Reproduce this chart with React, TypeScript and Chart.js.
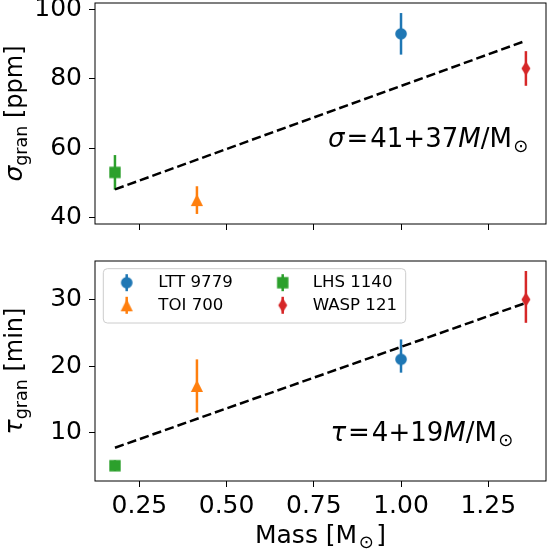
import { useEffect, useRef } from "react"
import { Chart, registerables } from "chart.js"

Chart.register(...registerables)

// stars, in legend order (column by column)
const stars = ["LTT 9779", "TOI 700", "LHS 1140", "WASP 121"]
const colors = ["#1f77b4", "#ff7f0e", "#2ca02c", "#d62728"]
const shapes = ["circle", "triangle", "square", "thinDiamond"]
const mass = [1.0, 0.415, 0.18, 1.358]

// granulation amplitude [ppm]
const sigmaGran = [93, 45, 53, 83]
const sigmaErrLow = [6, 4, 5, 5]
const sigmaErrHigh = [6, 4, 5, 5]

// granulation timescale [min]
const tauGran = [21, 17, 5, 30]
const tauErrLow = [2, 4, 0.8, 3.5]
const tauErrHigh = [3, 4, 0.8, 4.3]

// linear fits, end points
const fitMass = [0.18, 1.358]
const sigmaFit = [48.1, 91.0]
const tauFit = [7.7, 29.5]

const massTicks = [0.25, 0.5, 0.75, 1.0, 1.25]
const sigmaTicks = [40, 60, 80, 100]
const tauTicks = [10, 20, 30]

const massRange = [0.1228, 1.4156]
const sigmaRange = [38.1, 101.9]
const tauRange = [2.7, 35.8]

const FONT = "DejaVu Sans"
const reg = (px: number) => `${px}px "${FONT}"`
const ital = (px: number) => `italic ${px}px "${FONT}"`

const PLOT_LEFT = 95
const PLOT_RIGHT_PAD = 3.5

type Seg = { t: string; font: string; dy?: number; gap?: number }

function drawSegs(ctx: CanvasRenderingContext2D, segs: Seg[], x: number, y: number, center: boolean) {
  const widths = segs.map((s) => {
    ctx.font = s.font
    return ctx.measureText(s.t).width + (s.gap ?? 0)
  })
  let cx = center ? x - widths.reduce((a, b) => a + b, 0) / 2 : x
  segs.forEach((s, i) => {
    ctx.font = s.font
    ctx.fillText(s.t, cx, y + (s.dy ?? 0))
    cx += widths[i]
  })
}

function makeMarker(shape: string, color: string) {
  const c = document.createElement("canvas")
  c.width = 18
  c.height = 18
  const g = c.getContext("2d")!
  g.fillStyle = color
  g.beginPath()
  if (shape === "circle") g.arc(9, 9, 5.8, 0, Math.PI * 2)
  else if (shape === "triangle") {
    g.moveTo(9, 3)
    g.lineTo(15.1, 15)
    g.lineTo(2.9, 15)
    g.closePath()
  } else if (shape === "square") g.rect(3.3, 3.3, 11.4, 11.4)
  else {
    g.moveTo(9, 1.8)
    g.lineTo(13.5, 9)
    g.lineTo(9, 16.2)
    g.lineTo(4.5, 9)
    g.closePath()
  }
  g.fill()
  return c
}

function panelDatasets(values: number[], errLow: number[], errHigh: number[], fit: number[], markers: HTMLCanvasElement[]) {
  const sets: any[] = [
    {
      data: fitMass.map((x, i) => ({ x, y: fit[i] })),
      showLine: true,
      borderColor: "#000",
      borderWidth: 2.5,
      borderDash: [9.25, 4],
      pointRadius: 0,
      order: 0,
    },
  ]
  stars.forEach((_, i) => {
    sets.push({
      data: [
        { x: mass[i], y: values[i] - errLow[i] },
        { x: mass[i], y: values[i] + errHigh[i] },
      ],
      showLine: true,
      borderColor: colors[i],
      borderWidth: 2.5,
      pointRadius: 0,
      order: 2,
    })
    sets.push({
      data: [{ x: mass[i], y: values[i] }],
      pointStyle: markers[i],
      pointRadius: 6,
      backgroundColor: colors[i],
      borderColor: colors[i],
      order: 1,
    })
  })
  return sets
}

function axes(yRange: number[], yTicks: number[], xHeight: number, xLabels: boolean) {
  const grid = { drawOnChartArea: false, drawTicks: true, tickLength: 6, tickWidth: 1, tickColor: "#000" }
  const font = { family: FONT, size: 25 }
  return {
    x: {
      type: "linear",
      min: massRange[0],
      max: massRange[1],
      grid,
      border: { display: false },
      afterBuildTicks: (ax: any) => {
        ax.ticks = massTicks.map((value) => ({ value }))
      },
      afterFit: (ax: any) => {
        ax.height = xHeight
      },
      ticks: {
        display: xLabels,
        font,
        color: "#000",
        padding: 4,
        maxRotation: 0,
        autoSkip: false,
        callback: (v: any) => Number(v).toFixed(2),
      },
    },
    y: {
      type: "linear",
      min: yRange[0],
      max: yRange[1],
      grid,
      border: { display: false },
      afterBuildTicks: (ax: any) => {
        ax.ticks = yTicks.map((value) => ({ value }))
      },
      afterFit: (ax: any) => {
        ax.width = PLOT_LEFT
      },
      ticks: { font, color: "#000", padding: 7, autoSkip: false, callback: (v: any) => String(v) },
    },
  }
}

function panelPlugin(draw: (ctx: CanvasRenderingContext2D, a: any) => void) {
  return {
    id: "panelDecor",
    afterDraw(chart: any) {
      const { ctx, chartArea: a } = chart
      ctx.save()
      ctx.strokeStyle = "#000"
      ctx.lineWidth = 1
      ctx.strokeRect(a.left, a.top, a.right - a.left, a.bottom - a.top)
      ctx.fillStyle = "#000"
      ctx.textAlign = "left"
      ctx.textBaseline = "alphabetic"
      draw(ctx, a)
      ctx.restore()
    },
  }
}

function yLabel(ctx: CanvasRenderingContext2D, a: any, symbol: string, unit: string) {
  ctx.save()
  ctx.translate(22, (a.top + a.bottom) / 2)
  ctx.rotate(-Math.PI / 2)
  drawSegs(
    ctx,
    [
      { t: symbol, font: ital(25) },
      { t: "gran", font: reg(17.5), dy: 5 },
      { t: " " + unit, font: reg(24) },
    ],
    0,
    0,
    true
  )
  ctx.restore()
}

function fitLabel(ctx: CanvasRenderingContext2D, symbol: string, numbers: string, x: number, y: number) {
  drawSegs(
    ctx,
    [
      { t: symbol, font: ital(26), gap: 2 },
      { t: "=", font: reg(26), gap: 2 },
      { t: numbers, font: reg(26) },
      { t: "M", font: ital(26) },
      { t: "/M", font: reg(26), gap: 1.5 },
      { t: "⊙", font: reg(18), dy: 5 },
    ],
    x,
    y,
    false
  )
}

export default function App() {
  const topRef = useRef<HTMLCanvasElement>(null)
  const bottomRef = useRef<HTMLCanvasElement>(null)

  useEffect(() => {
    if (!topRef.current || !bottomRef.current) return
    const markers = shapes.map((s, i) => makeMarker(s, colors[i]))

    const common = {
      animation: false,
      responsive: false,
      maintainAspectRatio: false,
      events: [],
      plugins: { legend: { display: false }, tooltip: { enabled: false } },
    }

    const top = new Chart(topRef.current, {
      type: "scatter",
      data: { datasets: panelDatasets(sigmaGran, sigmaErrLow, sigmaErrHigh, sigmaFit, markers) },
      options: {
        ...common,
        layout: { padding: { top: 27, right: PLOT_RIGHT_PAD, left: 0, bottom: 0 } },
        scales: axes(sigmaRange, sigmaTicks, 26, false),
      } as any,
      plugins: [
        panelPlugin((ctx, a) => {
          yLabel(ctx, a, "σ", "[ppm]")
          fitLabel(ctx, "σ", "41+37", 328, a.top + 143.7)
        }),
      ],
    })

    const bottom = new Chart(bottomRef.current, {
      type: "scatter",
      data: { datasets: panelDatasets(tauGran, tauErrLow, tauErrHigh, tauFit, markers) },
      options: {
        ...common,
        layout: { padding: { top: 25, right: PLOT_RIGHT_PAD, left: 0, bottom: 0 } },
        scales: axes(tauRange, tauTicks, 69, true),
      } as any,
      plugins: [
        panelPlugin((ctx, a) => {
          yLabel(ctx, a, "τ", "[min]")
          fitLabel(ctx, "τ", "4+19", 330.4, a.top + 180)
          drawSegs(
            ctx,
            [
              { t: "Mass [M", font: reg(25), gap: 1.5 },
              { t: "⊙", font: reg(18), dy: 5, gap: 2.5 },
              { t: "]", font: reg(25) },
            ],
            (a.left + a.right) / 2,
            a.bottom + 61.7,
            true
          )

          // legend
          const lx = a.left + 8.3
          const ly = a.top + 7.7
          ctx.beginPath()
          ctx.roundRect(lx, ly, 302.4, 54.3, 4)
          ctx.fillStyle = "rgba(255,255,255,0.8)"
          ctx.fill()
          ctx.strokeStyle = "#cccccc"
          ctx.lineWidth = 1
          ctx.stroke()
          ctx.font = reg(16.6)
          ctx.textBaseline = "middle"
          stars.forEach((name, i) => {
            const col = Math.floor(i / 2)
            const row = i % 2
            const mx = lx + (col === 0 ? 23.4 : 179.4)
            const my = ly + (row === 0 ? 14 : 36.6)
            ctx.strokeStyle = colors[i]
            ctx.lineWidth = 2.5
            ctx.beginPath()
            ctx.moveTo(mx, my - 8.5)
            ctx.lineTo(mx, my + 8.5)
            ctx.stroke()
            ctx.drawImage(markers[i], mx - 9, my - 9)
            ctx.fillStyle = "#000"
            ctx.fillText(name, lx + (col === 0 ? 55 : 209.4), my)
          })
        }),
      ],
    })

    return () => {
      top.destroy()
      bottom.destroy()
    }
  }, [])

  return (
    <div style={{ position: "absolute", left: 0, top: 0, width: 553, height: 550, overflow: "hidden", background: "#fff" }}>
      <canvas ref={topRef} width={553} height={274} style={{ position: "absolute", left: 0, top: -24, width: 553, height: 274 }} />
      <canvas ref={bottomRef} width={553} height={314} style={{ position: "absolute", left: 0, top: 236, width: 553, height: 314 }} />
    </div>
  )
}
